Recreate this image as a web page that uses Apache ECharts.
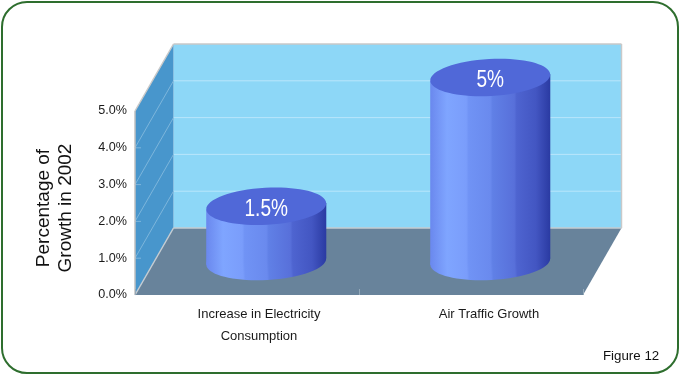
<!DOCTYPE html>
<html>
<head>
<meta charset="utf-8">
<style>html,body{margin:0;padding:0;background:#fff}#c{width:680px;height:375px}</style>
<script src="https://cdn.jsdelivr.net/npm/echarts@6/dist/echarts.min.js"></script>
</head>
<body>
<div id="c"></div>
<script>
const categories = ['Increase in Electricity\nConsumption', 'Air Traffic Growth'];
const growthValues = [1.5, 5];
const valueLabels = ['1.5%', '5%'];
const yTicks = [0, 1, 2, 3, 4, 5];
const labelShifts = [24, 36];

const DX = 38.5, DY = -67;

const chart = echarts.init(document.getElementById('c'), null, {renderer: 'canvas'});

function poly(points, fill, z2) {
  return {type: 'polygon', shape: {points}, style: {fill}, z2: z2 || 0};
}
function seg(x1, y1, x2, y2, stroke, w, z2) {
  return {type: 'line', shape: {x1, y1, x2, y2}, style: {stroke, lineWidth: w || 1, fill: null}, z2: z2 || 1};
}

function renderWalls(params, api) {
  const cs = params.coordSys;
  const l = cs.x, r = cs.x + cs.width;
  const y0 = api.coord([0, 0])[1];
  const yMax = api.coord([0, yTicks[yTicks.length - 1]])[1];
  const c = [
    poly([[l + DX, yMax + DY], [r + DX, yMax + DY], [r + DX, y0 + DY], [l + DX, y0 + DY]], '#8dd7f7'),
    poly([[l, yMax], [l + DX, yMax + DY], [l + DX, y0 + DY], [l, y0]], '#4896cc'),
    poly([[l, y0], [r, y0], [r + DX, y0 + DY], [l + DX, y0 + DY]], '#68839b')
  ];
  yTicks.slice(1, -1).forEach(t => {
    const y = api.coord([0, t])[1];
    c.push(seg(l + DX, y + DY, r + DX, y + DY, '#b9e6fb'));
    c.push(seg(l, y, l + DX, y + DY, '#7db6dc'));
    c.push(seg(l, y, l + 6, y, '#7db6dc'));
  });
  c.push(seg(l, yMax, l + DX, yMax + DY, '#c9c9c9', 1.5, 2));
  c.push(seg(l + DX, yMax + DY, r + DX, yMax + DY, '#c9c9c9', 1.5, 2));
  c.push(seg(r + DX, yMax + DY, r + DX, y0 + DY, '#c9c9c9', 1.5, 2));
  c.push(seg(l + DX, y0 + DY, r + DX, y0 + DY, '#c4ccd2', 1.5, 2));
  c.push(seg(l, yMax, l, y0, '#c0c0c0', 1.5, 2));
  c.push(seg(l, y0, l + DX, y0 + DY, '#c4ccd2', 1.5, 2));
  return {type: 'group', children: c};
}

function sideGradient() {
  return new echarts.graphic.LinearGradient(0, 0, 1, 0, [
    {offset: 0, color: '#6a88ee'},
    {offset: 0.14, color: '#7fa5ff'},
    {offset: 0.3, color: '#7a9dfb'},
    {offset: 0.32, color: '#7093f5'},
    {offset: 0.5, color: '#6a8aee'},
    {offset: 0.52, color: '#6080e6'},
    {offset: 0.7, color: '#5870da'},
    {offset: 0.72, color: '#4e64d0'},
    {offset: 0.88, color: '#4356c2'},
    {offset: 1, color: '#2a3aa2'}
  ]);
}

function renderCylinder(params, api) {
  const i = api.value(0), v = api.value(1);
  const base = api.coord([i, 0]);
  const top = api.coord([i, v]);
  const cx = base[0] + DX / 2;
  const by = base[1] + DY / 2, ty = top[1] + DY / 2;
  const rx = api.size([1, 0])[0] * 0.268, ry = 18.5;
  const tilt = 0.055, lift = rx * Math.sin(tilt);
  const ell = (cy, fill, z2) => ({
    type: 'ellipse', shape: {cx, cy, rx, ry}, style: {fill}, z2,
    rotation: tilt, originX: cx, originY: cy
  });
  return {
    type: 'group',
    children: [
      ell(by, sideGradient(), 0),
      poly([[cx - rx, ty + lift], [cx + rx, ty - lift], [cx + rx, by - lift], [cx - rx, by + lift]], sideGradient(), 1),
      ell(ty, '#5068d8', 2),
      {
        type: 'text', z2: 3, scaleX: 0.83, originX: cx, originY: ty,
        style: {x: cx, y: ty + 3, text: valueLabels[params.dataIndex], fill: '#fff',
          font: '23px ' + labelFont, align: 'center', verticalAlign: 'middle'}
      }
    ]
  };
}

const labelFont = '"Liberation Sans", Arial, sans-serif';

chart.setOption({
  animation: false,
  backgroundColor: '#fff',
  graphic: [{
    type: 'rect', silent: true, z: -1,
    shape: {x: 2, y: 2, width: 676, height: 371, r: 25},
    style: {fill: '#fff', stroke: '#2e6e2e', lineWidth: 2}
  }, {
    type: 'text', silent: true, z: 5, left: 603, top: 350,
    style: {text: 'Figure 12', fill: '#111', font: '13.3px ' + labelFont}
  }],
  grid: {left: 135, right: 97, top: 111, bottom: 80, containLabel: false},
  xAxis: {
    type: 'category',
    data: categories.map((c, i) => ({value: c, textStyle: {padding: [0, 0, 0, labelShifts[i]]}})),
    axisLine: {show: false},
    axisTick: {show: true, inside: true, length: 6, lineStyle: {color: '#93a8b8'}},
    axisLabel: {interval: 0, color: '#1a1a1a', fontFamily: labelFont, fontSize: 13, lineHeight: 22, margin: 8},
    splitLine: {show: false},
    z: 4
  },
  yAxis: {
    type: 'value', min: 0, max: 5, interval: 1,
    name: 'Percentage of\nGrowth in 2002',
    nameLocation: 'middle', nameRotate: 90, nameGap: 58,
    nameTextStyle: {color: '#111', fontFamily: labelFont, fontSize: 19, lineHeight: 22, padding: [0, 10, 0, 0]},
    axisLine: {show: false}, axisTick: {show: false}, splitLine: {show: false},
    axisLabel: {color: '#1a1a1a', fontFamily: labelFont, fontSize: 12.6, margin: 8,
      padding: [0, 0, 4, 0], formatter: v => v.toFixed(1) + '%'},
    z: 4
  },
  series: [
    {type: 'custom', coordinateSystem: 'cartesian2d', z: 1, silent: true, clip: false,
     renderItem: renderWalls, data: [[0, 0]], encode: {x: 0, y: 1}},
    {type: 'custom', coordinateSystem: 'cartesian2d', z: 2, silent: true, clip: false,
     renderItem: renderCylinder,
     data: growthValues.map((v, i) => [i, v]), encode: {x: 0, y: 1}}
  ]
});
</script>
</body>
</html>
